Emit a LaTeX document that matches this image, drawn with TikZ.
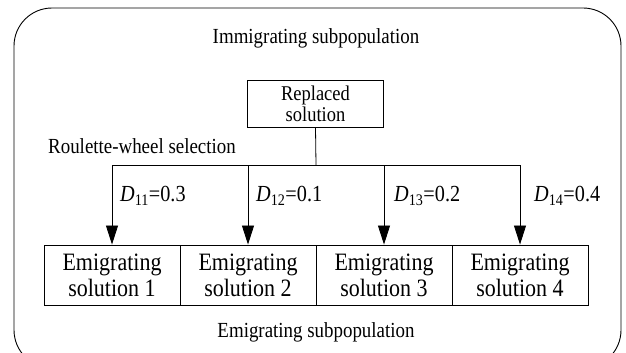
\documentclass[tikz,border=0pt]{standalone}
\usepackage{fontspec}
\setmainfont{Liberation Serif}[FakeStretch=0.88]
\usetikzlibrary{arrows.meta}
\begin{document}
\begin{tikzpicture}[x=1pt,y=-1pt,
  lbl/.style={inner sep=0pt,font=\fontsize{21.5}{24}\selectfont},
  dlbl/.style={inner sep=0pt,anchor=west,font=\fontsize{23}{24}\selectfont},
  repbox/.style={draw,line width=0.9pt,minimum width=136pt,minimum height=47pt,inner sep=0pt,align=center,font=\fontsize{21}{21}\selectfont},
  embox/.style={draw,line width=0.9pt,minimum width=136pt,minimum height=60pt,inner sep=0pt,align=center,font=\fontsize{25}{26}\selectfont},
  arr/.style={line width=0.8pt,-{Triangle[length=19pt,width=12pt]}},
  ln/.style={line width=0.8pt}]
\useasboundingbox (0,0) rectangle (626,353);
\clip (0,0) rectangle (626,353);
\draw[line width=0.9pt,rounded corners=38pt] (14,8) rectangle (621,368);
\node[lbl] (imm) at (316,38) {Immigrating subpopulation};
\node[repbox] (rep) at (315.5,103.5) {Replaced\\solution};
\node[lbl,anchor=west] (rw) at (48,146) {Roulette-wheel selection};
\coordinate (j) at (316,165);
\node[embox] (e1) at (112,275) {Emigrating\\solution 1};
\node[embox] (e2) at (248,275) {Emigrating\\solution 2};
\node[embox] (e3) at (384,275) {Emigrating\\solution 3};
\node[embox] (e4) at (520,275) {Emigrating\\solution 4};
\node[lbl] (emi) at (316,332) {Emigrating subpopulation};
\draw[ln] (rep.south) -- (j);
\draw[arr] (j) -| (e1.north);
\draw[arr] (j) -| (e2.north);
\draw[arr] (j) -| (e3.north);
\draw[arr] (j) -| (e4.north);
\node[dlbl] (d1) at (120,196) {\textit{D}\textsubscript{11}=0.3};
\node[dlbl] (d2) at (256,196) {\textit{D}\textsubscript{12}=0.1};
\node[dlbl] (d3) at (394,196) {\textit{D}\textsubscript{13}=0.2};
\node[dlbl] (d4) at (534,196) {\textit{D}\textsubscript{14}=0.4};
\end{tikzpicture}
\end{document}
